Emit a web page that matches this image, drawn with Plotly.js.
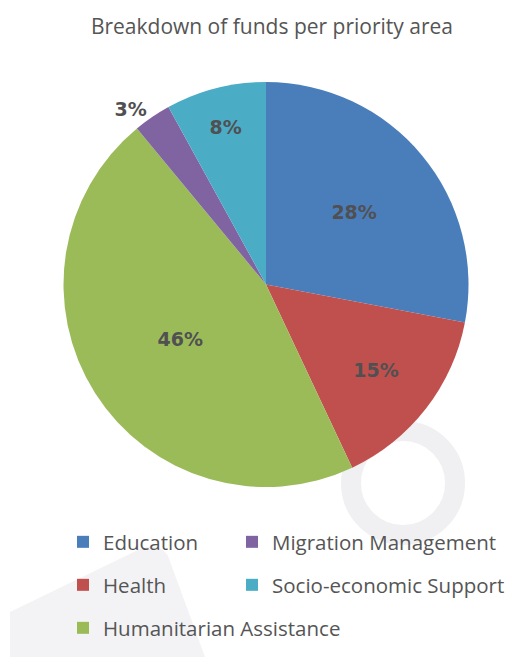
<!DOCTYPE html>
<html>
<head>
<meta charset="utf-8">
<script src="https://cdn.plot.ly/plotly-3.0.1.min.js"></script>
<style>html,body{margin:0;padding:0;background:#fff;}#chart{width:520px;height:657px;}</style>
</head>
<body>
<div id="chart"></div>
<script>
// ---- data ----
const categories = ["Education", "Health", "Humanitarian Assistance", "Migration Management", "Socio-economic Support"];
const shares = [28, 15, 46, 3, 8];
const colors = ["#4a7ebb", "#c0504d", "#9bbb59", "#8064a2", "#4bacc6"];
const legendOrder = ["Education", "Health", "Humanitarian Assistance", "Migration Management", "Socio-economic Support"];
const chartTitle = "Breakdown of funds per priority area";

const W = 520, H = 657;
const px = x => x / W;
const py = y => 1 - y / H;

const labelFont = {family: "DejaVu Sans", size: 19, color: "#505052", weight: "bold"};

const pie = {
  type: "pie",
  labels: categories,
  values: shares,
  sort: false,
  direction: "clockwise",
  rotation: 0,
  marker: {colors: colors, line: {width: 0}},
  textinfo: "percent",
  textposition: ["inside", "inside", "inside", "outside", "inside"],
  insidetextorientation: "horizontal",
  textfont: labelFont,
  outsidetextfont: labelFont,
  domain: {x: [px(62), px(470)], y: [py(487), py(82)]},
  showlegend: false,
  hoverinfo: "label+percent"
};

// legend entries (column-wise layout like the reference)
const legendPos = [
  {x: 63, y: 542}, {x: 63, y: 585}, {x: 63, y: 628},
  {x: 232, y: 542}, {x: 232, y: 585}
];
const traces = [pie];
const layoutLegends = {};
legendOrder.forEach((name, i) => {
  const key = i === 0 ? "legend" : "legend" + (i + 1);
  traces.push({
    type: "scatter", mode: "markers", x: [null], y: [null],
    name: name, legend: key,
    marker: {symbol: "square", size: 12, color: colors[categories.indexOf(name)]},
    showlegend: true, hoverinfo: "skip"
  });
  layoutLegends[key] = {
    x: px(legendPos[i].x), y: py(legendPos[i].y),
    xanchor: "left", yanchor: "middle",
    bgcolor: "rgba(0,0,0,0)",
    font: {family: "Open Sans", size: 20.5, color: "#555"}
  };
});

const layout = Object.assign({
  width: W, height: H,
  margin: {l: 0, r: 0, t: 0, b: 0},
  paper_bgcolor: "#fff", plot_bgcolor: "rgba(0,0,0,0)",
  title: {text: chartTitle, x: 0.523, xanchor: "center", y: py(27), yanchor: "middle", yref: "container",
          font: {family: "Open Sans", size: 21, color: "#555"}},
  xaxis: {visible: false, range: [0, 1]},
  yaxis: {visible: false, range: [0, 1]},
  shapes: [
    {type: "path", xref: "paper", yref: "paper", layer: "below",
     path: `M ${px(10)},${py(612)} L ${px(140)},${py(549)} Q ${px(160)},${py(542)} ${px(168)},${py(556)} L ${px(205)},${py(657)} L ${px(10)},${py(657)} Z`,
     fillcolor: "#f3f3f5", line: {width: 0}},
    {type: "circle", xref: "paper", yref: "paper", layer: "below",
     x0: px(403 - 52), x1: px(403 + 52), y0: py(483 + 52), y1: py(483 - 52),
     fillcolor: "rgba(0,0,0,0)", line: {color: "#f0f0f3", width: 20}}
  ]
}, layoutLegends);

Plotly.newPlot("chart", traces, layout, {displayModeBar: false, staticPlot: true});
</script>
</body>
</html>
